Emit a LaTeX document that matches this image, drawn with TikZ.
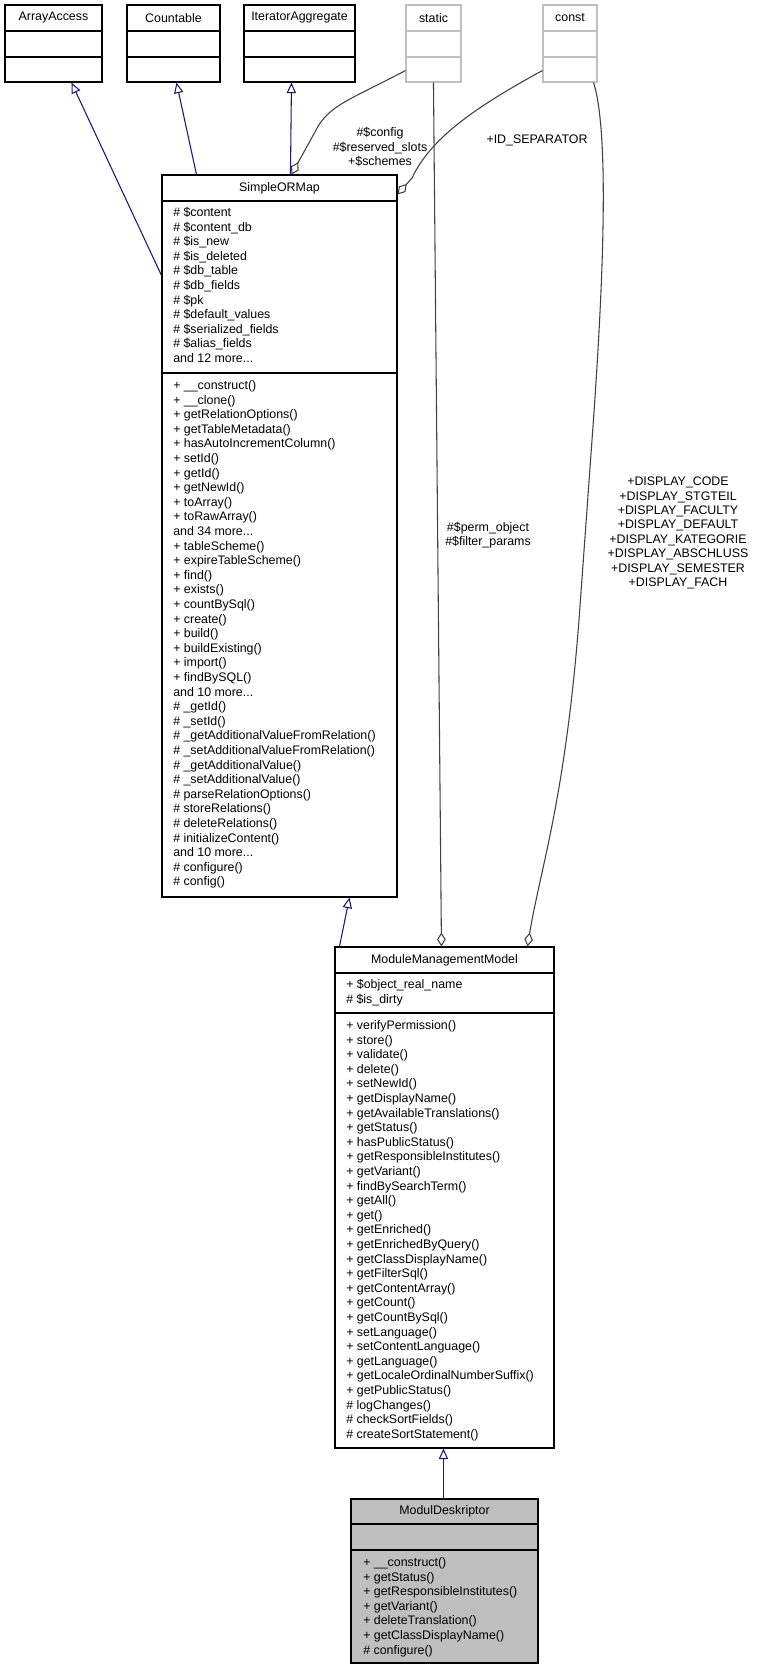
\documentclass[tikz,border=0pt]{standalone}
\usepackage{fontspec}
\setmainfont{Liberation Sans}
\usetikzlibrary{arrows.meta,fit,calc}
\definecolor{navyline}{HTML}{191970}
\definecolor{grayline}{HTML}{404040}
\definecolor{lightbox}{HTML}{BFBFBF}
\newcommand\umlfont{\fontsize{9.3pt}{10.8pt}\selectfont}
\newcommand\tdots{...}
\newcommand\umllines[4]{%
  \foreach \t [count=\i] in {#4} {%
    \node[txt, anchor=base west] (#3\i) at (#1, #2+4.5+14.6*\i-14.6) {\t};}}
\begin{document}
\begin{tikzpicture}[x=0.75pt,y=-0.75pt,
  txt/.style={inner sep=0pt, font=\umlfont},
  cls/.style={draw=black, line width=0.8pt, inner sep=0pt},
  ghost/.style={draw=lightbox, line width=0.8pt, inner sep=0pt},
  inh/.style={navyline, line width=0.8pt, -{Triangle[open,length=8pt,width=7pt]}},
  agg/.style={grayline, line width=0.8pt, -{Diamond[open,length=10.5pt,width=6.5pt]}},
  lbl/.style={inner sep=0pt, font=\umlfont, align=center}]
\useasboundingbox (0,0) rectangle (761,1669);
% top boxes
\node[cls, fit={(5,5) (102,82)}] (aa) {};
\draw[line width=0.8pt] (5,31) -- (102,31) (5,57) -- (102,57);
\node[txt] (aat) at (53.5,18) {ArrayAccess};
\node[cls, fit={(127,5) (220,82)}] (cnt) {};
\draw[line width=0.8pt] (127,31) -- (220,31) (127,57) -- (220,57);
\node[txt] (cntt) at (173.5,18) {Countable};
\node[cls, fit={(244,5) (355,82)}] (it) {};
\draw[line width=0.8pt] (244,31) -- (355,31) (244,57) -- (355,57);
\node[txt] (itt) at (299.5,18) {IteratorAggregate};
\node[ghost, fit={(406,5) (461,82)}] (st) {};
\draw[lightbox,line width=0.8pt] (406,31) -- (461,31) (406,57) -- (461,57);
\node[txt] (stt) at (433.5,18) {static};
\node[ghost, fit={(543,5) (597,82)}] (co) {};
\draw[lightbox,line width=0.8pt] (543,31) -- (597,31) (543,57) -- (597,57);
\node[txt] (cot) at (570,18) {const};
% SimpleORMap
\node[cls, fit={(162,175) (397,897)}] (sorm) {};
\draw[line width=0.8pt] (162,201) -- (397,201) (162,373) -- (397,373);
\node[txt] (sormt) at (279.5,188) {SimpleORMap};
\umllines{173}{212}{sa}{\# \$content,\# \$content\_db,\# \$is\_new,\# \$is\_deleted,\# \$db\_table,\# \$db\_fields,\# \$pk,\# \$default\_values,\# \$serialized\_fields,\# \$alias\_fields,and 12 more\tdots}
\umllines{173}{385}{sm}{+ \_\_construct(),+ \_\_clone(),+ getRelationOptions(),+ getTableMetadata(),+ hasAutoIncrementColumn(),+ setId(),+ getId(),+ getNewId(),+ toArray(),+ toRawArray(),and 34 more\tdots,+ tableScheme(),+ expireTableScheme(),+ find(),+ exists(),+ countBySql(),+ create(),+ build(),+ buildExisting(),+ import(),+ findBySQL(),and 10 more\tdots,\# \_getId(),\# \_setId(),\# \_getAdditionalValueFromRelation(),\# \_setAdditionalValueFromRelation(),\# \_getAdditionalValue(),\# \_setAdditionalValue(),\# parseRelationOptions(),\# storeRelations(),\# deleteRelations(),\# initializeContent(),and 10 more\tdots,\# configure(),\# config()}
% ModuleManagementModel
\node[cls, fit={(335,947) (554,1448)}] (mmm) {};
\draw[line width=0.8pt] (335,973) -- (554,973) (335,1013) -- (554,1013);
\node[txt] (mmmt) at (444.5,960) {ModuleManagementModel};
\umllines{346}{984}{ma}{+ \$object\_real\_name,\# \$is\_dirty}
\umllines{346}{1025}{mm}{+ verifyPermission(),+ store(),+ validate(),+ delete(),+ setNewId(),+ getDisplayName(),+ getAvailableTranslations(),+ getStatus(),+ hasPublicStatus(),+ getResponsibleInstitutes(),+ getVariant(),+ findBySearchTerm(),+ getAll(),+ get(),+ getEnriched(),+ getEnrichedByQuery(),+ getClassDisplayName(),+ getFilterSql(),+ getContentArray(),+ getCount(),+ getCountBySql(),+ setLanguage(),+ setContentLanguage(),+ getLanguage(),+ getLocaleOrdinalNumberSuffix(),+ getPublicStatus(),\# logChanges(),\# checkSortFields(),\# createSortStatement()}
% ModulDeskriptor
\node[cls, fill=lightbox, fit={(351,1499) (538,1663)}] (md) {};
\draw[line width=0.8pt] (351,1524) -- (538,1524) (351,1550) -- (538,1550);
\node[txt] (mdt) at (444.5,1511) {ModulDeskriptor};
\umllines{363}{1562}{dm}{+ \_\_construct(),+ getStatus(),+ getResponsibleInstitutes(),+ getVariant(),+ deleteTranslation(),+ getClassDisplayName(),\# configure()}
% inheritance
\draw[inh] ($(sorm.north west)+(0,101)$) -- ($(aa.south west)+(67,0)$);
\draw[inh] ($(sorm.north west)+(35,0)$) -- ($(cnt.south west)+(50,0)$);
\draw[inh] ($(sorm.north west)+(129,0)$) -- ($(it.south west)+(48,0)$);
\draw[inh] ($(mmm.north west)+(5,0)$) -- ($(sorm.south west)+(188,0)$);
\draw[inh] ($(md.north west)+(93,0)$) -- ($(mmm.south west)+(109,0)$);
% aggregations
\draw[agg] ($(st.south west)+(0,-12)$) .. controls (350,100) and (328,105) .. (315,132) -- ($(sorm.north west)+(130,0)$);
\draw[agg] ($(co.south west)+(0,-12)$) .. controls (470,110) and (430,140) .. (412,178) -- ($(sorm.north east)+(0,20)$);
\draw[agg] ($(st.south west)+(28,0)$) -- ($(mmm.north west)+(107,0)$);
\draw[agg] ($(co.south east)+(-4,0)$) .. controls (612,140) and (600,330) .. (592,440) -- (579,620) .. controls (565,800) and (540,870) .. ($(mmm.north west)+(193,0)$);
% labels
\node[lbl] (l1) at (380,147) {\#\$config\\\#\$reserved\_slots\\+\$schemes};
\node[lbl] (l2) at (537,140) {+ID\_SEPARATOR};
\node[lbl] (l3) at (488,535) {\#\$perm\_object\\\#\$filter\_params};
\node[lbl] (l4) at (678,533) {+DISPLAY\_CODE\\+DISPLAY\_STGTEIL\\+DISPLAY\_FACULTY\\+DISPLAY\_DEFAULT\\+DISPLAY\_KATEGORIE\\+DISPLAY\_ABSCHLUSS\\+DISPLAY\_SEMESTER\\+DISPLAY\_FACH};
\end{tikzpicture}
\end{document}
